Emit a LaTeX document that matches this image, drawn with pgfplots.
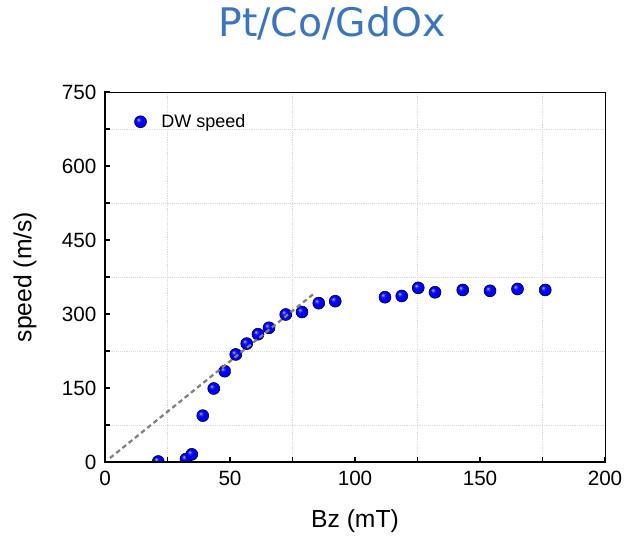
\documentclass[border=0pt]{standalone}
\usepackage{fontspec}
\setmainfont{Liberation Sans}
\newfontfamily\titlefont{DejaVu Sans}
\usepackage{pgfplots}
\pgfplotsset{compat=1.18}
\definecolor{titleblue}{RGB}{58,117,196}
\makeatletter
\pgfdeclareradialshading[tikz@ball]{ball}{\pgfqpoint{-10bp}{10bp}}{%
 color(0bp)=(tikz@ball!20!white);
 color(6bp)=(tikz@ball!80!white);
 color(12bp)=(tikz@ball);
 color(24bp)=(tikz@ball);
 color(50bp)=(tikz@ball!60!black)}
\makeatother
\begin{document}
\begin{tikzpicture}
\useasboundingbox (-78.75pt,-57pt) rectangle (391.5pt,346.5pt);
\begin{axis}[
  at={(0,0)}, anchor=south west,
  scale only axis, width=375pt, height=277.5pt,
  xmin=0, xmax=200, ymin=0, ymax=750,
  xtick={0,50,...,200}, ytick={0,150,...,750},
  minor tick num=1,
  tick pos=left, tick align=inside,
  major tick length=4pt, minor tick length=4pt,
  every tick/.style={black, line width=0.8pt},
  xminorgrids=true, yminorgrids=true,
  minor grid style={densely dotted, gray!30, line width=0.5pt},
  axis line style={line width=0.6pt},
  /pgf/number format/assume math mode=true,
  tick label style={font=\fontsize{15.5}{18}\selectfont},
  xticklabel style={yshift=-3pt},
  yticklabel style={xshift=-3pt},
  xlabel={Bz (mT)}, ylabel={speed (m/s)},
  every axis x label/.style={at={(axis description cs:0.5,-0.178)}, anchor=base, font=\fontsize{18.5}{22}\selectfont},
  every axis y label/.style={at={(axis description cs:-0.16,0.5)}, anchor=center, rotate=90, font=\fontsize{18.5}{22}\selectfont},
  legend style={at={(axis description cs:0.05,0.955)}, anchor=north west, draw=none, fill=none,
    font=\fontsize{13.5}{16}\selectfont, /tikz/every odd column/.append style={column sep=9pt}},
  legend cell align=left,
  clip mode=individual,
  clip marker paths=true,
]
\addplot[only marks, mark=ball, mark size=4.5pt, mark options={ball color=blue}] coordinates {
(21.3,1) (32.4,6) (34.7,15.5) (39.1,94) (43.5,149) (47.9,184) (52.3,218) (56.7,240)
(61.2,259) (65.6,272) (72.3,299) (78.8,304) (85.5,322) (92.1,326)
(112,334) (118.7,336.5) (125.3,353) (132,344) (143.1,348.7) (154,347) (165,350.7) (176.1,348.7)
};
\addlegendentry{DW speed}
\addplot[gray, line width=1.7pt, dash pattern=on 3.5pt off 2.5pt, forget plot] coordinates {(2,8) (83.5,341)};
\end{axis}
\node[font=\titlefont\fontsize{29.5}{34}\selectfont, text=titleblue, anchor=base] at (170.25pt,318.75pt) {Pt/Co/GdOx};
\draw[line width=1.7pt, line cap=rect] (0,277.5pt) -- (0,0) -- (375pt,0);
\end{tikzpicture}
\end{document}
